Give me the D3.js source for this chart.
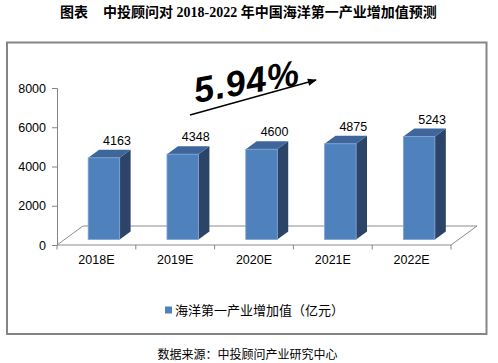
<!DOCTYPE html>
<html>
<head>
<meta charset="utf-8">
<script src="https://cdn.jsdelivr.net/npm/d3@7"></script>
<style>
  body { margin: 0; background: #fff; }
  svg { display: block; }
</style>
</head>
<body>
<svg id="chart" width="498" height="363"></svg>
<script>
var categories = ["2018E", "2019E", "2020E", "2021E", "2022E"];
var values = [4163, 4348, 4600, 4875, 5243];
var yTicks = [0, 2000, 4000, 6000, 8000];
var seriesName = "海洋第一产业增加值（亿元）";
var growthLabel = "5.94%";

var svg = d3.select("#chart");
var latin = "'Liberation Sans', Arial, sans-serif";
var cjk = "'Noto Sans CJK SC', sans-serif";

// title
var title = svg.append("g")
  .attr("font-family", "'Liberation Serif', 'Noto Sans CJK SC', serif")
  .attr("font-weight", "bold").attr("font-size", 14).attr("fill", "#000");
title.append("text").attr("x", 60).attr("y", 17).text("图表");
title.append("text").attr("x", 103).attr("y", 17).text("中投顾问对 2018-2022 年中国海洋第一产业增加值预测");

// outer border
svg.append("rect").attr("x", 7).attr("y", 42.5).attr("width", 479.5).attr("height", 291.5)
  .attr("fill", "none").attr("stroke", "#858585").attr("stroke-width", 2);

// scales
var x = d3.scaleBand().domain(categories).range([57, 451]).padding(0);
var y = d3.scaleLinear().domain([0, 8000]).range([245, 88]);
var depth = [26, -19];          // floor depth vector
var front = 0.29, thick = 0.42; // bar placement along depth
var barW = x.bandwidth() * 0.4;

// floor
var floor = [[57, 245], [451, 245], [451 + depth[0], 245 + depth[1]], [57 + depth[0], 245 + depth[1]]];
svg.append("path").attr("d", d3.line()(floor) + "Z")
  .attr("fill", "none").attr("stroke", "#8c8c8c").attr("stroke-width", 1);

// y axis
var yAxis = svg.append("g").attr("transform", "translate(57,0)")
  .call(d3.axisLeft(y).tickValues(yTicks).tickSize(5).tickPadding(6).tickFormat(d3.format("d")));
yAxis.select(".domain").attr("stroke", "#868686");
yAxis.selectAll(".tick line").attr("stroke", "#868686");
yAxis.selectAll(".tick text").attr("font-family", latin).attr("font-size", 12.5).attr("fill", "#000");

// x axis
var xAxis = svg.append("g").attr("transform", "translate(0,245)")
  .call(d3.axisBottom(x).tickSize(0).tickPadding(10));
xAxis.select(".domain").remove();
xAxis.selectAll(".tick text").attr("font-family", latin).attr("font-size", 12.5).attr("fill", "#000");
svg.append("g").selectAll("line").data(categories.concat([null])).join("line")
  .attr("x1", function (d, i) { return 57 + i * x.step(); })
  .attr("x2", function (d, i) { return 57 + i * x.step(); })
  .attr("y1", 245).attr("y2", 249.5)
  .attr("stroke", "#868686");

// bars
var ox = depth[0] * front, oy = depth[1] * front;
var dx = depth[0] * thick, dy = depth[1] * thick;
var bars = svg.append("g").selectAll("g").data(values).join("g");
bars.each(function (v, i) {
  var g = d3.select(this);
  var x0 = x(categories[i]) + x.bandwidth() / 2 - barW / 2 + ox;
  var x1 = x0 + barW;
  var yb = y(0) + oy, yt = y(v) + oy;
  g.append("path").attr("d", d3.line()([[x1, yb], [x1 + dx, yb + dy], [x1 + dx, yt + dy], [x1, yt]]) + "Z")
    .attr("fill", "#2b4467");
  g.append("path").attr("d", d3.line()([[x0, yt], [x1, yt], [x1 + dx, yt + dy], [x0 + dx, yt + dy]]) + "Z")
    .attr("fill", "#3e659c");
  g.append("rect").attr("x", x0).attr("y", yt).attr("width", barW).attr("height", yb - yt)
    .attr("fill", "#4f81bd").attr("stroke", "#7fa3cf").attr("stroke-width", 0.8);
  g.append("text").attr("x", x0 + barW / 2 + 13).attr("y", yt - 13)
    .attr("text-anchor", "middle").attr("font-family", latin).attr("font-size", 12.5)
    .attr("fill", "#000").text(v);
});

// growth annotation
svg.append("defs").append("marker").attr("id", "arrow")
  .attr("viewBox", "0 0 10 10").attr("refX", 9).attr("refY", 5)
  .attr("markerWidth", 7).attr("markerHeight", 6).attr("orient", "auto")
  .append("path").attr("d", "M0,1 L10,5 L0,9 Z").attr("fill", "#000");
svg.append("line").attr("x1", 190).attr("y1", 115).attr("x2", 316).attr("y2", 80)
  .attr("stroke", "#000").attr("stroke-width", 1.5).attr("marker-end", "url(#arrow)");
svg.append("text").attr("transform", "translate(196,103) rotate(-10)")
  .attr("font-family", latin).attr("font-size", 36).attr("font-weight", "bold")
  .attr("font-style", "italic").attr("letter-spacing", 1).attr("fill", "#000")
  .text(growthLabel);

// legend
svg.append("rect").attr("x", 165).attr("y", 306.5).attr("width", 7).attr("height", 7).attr("fill", "#4f81bd");
svg.append("text").attr("x", 175).attr("y", 315).attr("font-family", cjk).attr("font-size", 13)
  .attr("fill", "#000").text(seriesName);

// source
svg.append("text").attr("x", 247.5).attr("y", 359).attr("text-anchor", "middle")
  .attr("font-family", cjk).attr("font-size", 12).attr("fill", "#000")
  .text("数据来源：中投顾问产业研究中心");
</script>
</body>
</html>
